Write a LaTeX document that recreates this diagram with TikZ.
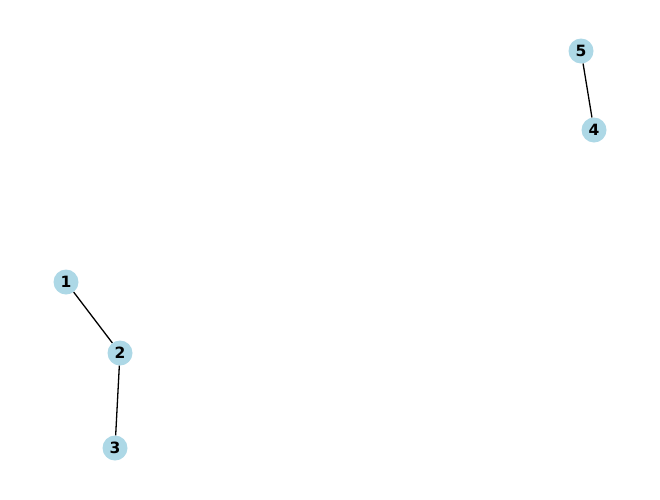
\documentclass[tikz,border=0pt]{standalone}
\usepackage{fontspec}
\setmainfont{DejaVu Sans}
\definecolor{nodeblue}{HTML}{ADD8E6}
\begin{document}
\begin{tikzpicture}[x=1pt,y=-1pt,
  vertex/.style={circle,fill=nodeblue,draw=none,minimum size=25pt,inner sep=0pt,
    font=\fontsize{15.5}{18}\selectfont\bfseries},
  edge/.style={draw=black,line width=1.3pt}]
\useasboundingbox (0,0) rectangle (660,499);
\node[vertex] (n1) at (66,282) {1};
\node[vertex] (n2) at (120,353) {2};
\node[vertex] (n3) at (115,448) {3};
\node[vertex] (n5) at (581,51) {5};
\node[vertex] (n4) at (594,130) {4};
\draw[edge] (n1) -- (n2);
\draw[edge] (n2) -- (n3);
\draw[edge] (n5) -- (n4);
\end{tikzpicture}
\end{document}
